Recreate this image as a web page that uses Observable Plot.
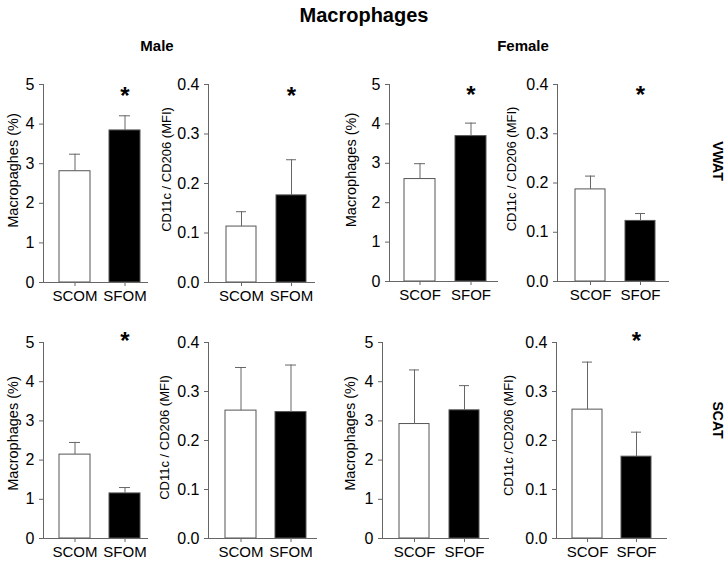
<!DOCTYPE html>
<html>
<head>
<meta charset="utf-8">
<script src="https://cdn.jsdelivr.net/npm/d3@7"></script>
<script src="https://cdn.jsdelivr.net/npm/@observablehq/plot@0.6"></script>
<style>
  body { margin: 0; background: #fff; }
  #fig { position: relative; width: 728px; height: 565px; overflow: hidden; background: #fff;
         font-family: "Liberation Sans", Arial, sans-serif; color: #000; }
  .lbl { position: absolute; font-weight: bold; white-space: nowrap; line-height: 1;
         transform: translate(-50%, -50%); }
  .rot { transform: translate(-50%, -50%) rotate(90deg); }
  .panel { position: absolute; }
</style>
</head>
<body>
<div id="fig">
  <div class="lbl" style="left:364px;top:15px;font-size:20px;">Macrophages</div>
  <div class="lbl" style="left:157px;top:45px;font-size:15px;">Male</div>
  <div class="lbl" style="left:523px;top:45px;font-size:15px;">Female</div>
  <div class="lbl rot" style="left:718px;top:161px;font-size:14px;">VWAT</div>
  <div class="lbl rot" style="left:718px;top:420px;font-size:14px;">SCAT</div>
</div>
<script>
// ---- data ----
const maleGroups = ["SCOM", "SFOM"];
const femaleGroups = ["SCOF", "SFOF"];
const macTicks = [0, 1, 2, 3, 4, 5];
const cdTicks = [0, 0.1, 0.2, 0.3, 0.4];

const vwatMaleMac = [2.81, 3.84];
const vwatMaleMacErr = [0.43, 0.37];
const vwatMaleCD = [0.113, 0.176];
const vwatMaleCDErr = [0.030, 0.072];
const vwatFemaleMac = [2.6, 3.69];
const vwatFemaleMacErr = [0.39, 0.33];
const vwatFemaleCD = [0.187, 0.123];
const vwatFemaleCDErr = [0.027, 0.015];

const scatMaleMac = [2.14, 1.15];
const scatMaleMacErr = [0.31, 0.15];
const scatMaleCD = [0.261, 0.258];
const scatMaleCDErr = [0.088, 0.096];
const scatFemaleMac = [2.92, 3.27];
const scatFemaleMacErr = [1.38, 0.63];
const scatFemaleCD = [0.263, 0.167];
const scatFemaleCDErr = [0.097, 0.050];

const barFills = ["white", "black"];

// significance markers (group with a star)
const vwatMaleMacStar = ["SFOM"];
const vwatMaleCDStar = ["SFOM"];
const vwatFemaleMacStar = ["SFOF"];
const vwatFemaleCDStar = ["SFOF"];
const scatMaleMacStar = ["SFOM"];
const scatMaleCDStar = [];
const scatFemaleMacStar = [];
const scatFemaleCDStar = ["SFOF"];

const macLabel = "Macrophages (%)";
const macLabelTypo = "Macropaghes (%)";
const cdLabel = "CD11c / CD206 (MFI)";
const cdLabel2 = "CD11c /CD206 (MFI)";

// ---- panel definitions ----
const panels = [
  {groups: maleGroups, v: vwatMaleMac, e: vwatMaleMacErr, star: vwatMaleMacStar, yMax: 5, ticks: macTicks, fmt: "d", label: macLabelTypo, lsize: 14.5},
  {groups: maleGroups, v: vwatMaleCD, e: vwatMaleCDErr, star: vwatMaleCDStar, yMax: 0.4, ticks: cdTicks, fmt: ".1f", label: cdLabel, lsize: 13},
  {groups: femaleGroups, v: vwatFemaleMac, e: vwatFemaleMacErr, star: vwatFemaleMacStar, yMax: 5, ticks: macTicks, fmt: "d", label: macLabel, lsize: 14.5},
  {groups: femaleGroups, v: vwatFemaleCD, e: vwatFemaleCDErr, star: vwatFemaleCDStar, yMax: 0.4, ticks: cdTicks, fmt: ".1f", label: cdLabel, lsize: 13},
  {groups: maleGroups, v: scatMaleMac, e: scatMaleMacErr, star: scatMaleMacStar, yMax: 5, ticks: macTicks, fmt: "d", label: macLabel, lsize: 14.5},
  {groups: maleGroups, v: scatMaleCD, e: scatMaleCDErr, star: scatMaleCDStar, yMax: 0.4, ticks: cdTicks, fmt: ".1f", label: cdLabel, lsize: 13},
  {groups: femaleGroups, v: scatFemaleMac, e: scatFemaleMacErr, star: scatFemaleMacStar, yMax: 5, ticks: macTicks, fmt: "d", label: macLabel, lsize: 14.5},
  {groups: femaleGroups, v: scatFemaleCD, e: scatFemaleCDErr, star: scatFemaleCDStar, yMax: 0.4, ticks: cdTicks, fmt: ".1f", label: cdLabel2, lsize: 13}
];

// ---- layout (pixel placement of each panel frame) ----
const layout = [
  {ax: 43,  top: 84,  h: 198, gapL: 16, bw: 31, gap: 19, gapR: 7,  lOff: 30, lDy: -13, starF: 0.96},
  {ax: 208, top: 84,  h: 198, gapL: 17, bw: 31, gap: 20, gapR: 7,  lOff: 42, lDy: -14, starF: 0.96},
  {ax: 389, top: 84,  h: 197, gapL: 15, bw: 31, gap: 20, gapR: 11, lOff: 38, lDy: -13, starF: 0.965},
  {ax: 557, top: 84,  h: 197, gapL: 17, bw: 31, gap: 20, gapR: 12, lOff: 46, lDy: -14, starF: 0.965},
  {ax: 43,  top: 342, h: 196, gapL: 16, bw: 31, gap: 19, gapR: 7,  lOff: 30, lDy: -7,  starF: 1.026},
  {ax: 208, top: 342, h: 196, gapL: 17, bw: 31, gap: 19, gapR: 10, lOff: 44, lDy: -3,  starF: 1.026},
  {ax: 382, top: 342, h: 196, gapL: 17, bw: 30, gap: 20, gapR: 9,  lOff: 32, lDy: -7,  starF: 1.026},
  {ax: 556, top: 342, h: 196, gapL: 15, bw: 31, gap: 19, gapR: 14, lOff: 48, lDy: -5,  starF: 1.026}
];

const axisColor = "#666";
const fig = document.getElementById("fig");
const mL = 60, mT = 24, mB = 34, mR = 6;

panels.forEach((p, i) => {
  const L = layout[i];
  const step = L.bw + L.gap;
  const frameW = L.gapL + 2 * L.bw + L.gap + L.gapR;
  const data = p.groups.map((g, k) => ({g, v: p.v[k], e: p.e[k], fill: barFills[k]}));
  const stars = p.star.map(g => ({g, y: p.yMax * L.starF}));
  const chart = Plot.plot({
    width: mL + frameW + mR,
    height: mT + L.h + mB,
    marginLeft: mL, marginRight: mR, marginTop: mT, marginBottom: mB,
    style: {fontFamily: "'Liberation Sans', Arial, sans-serif", overflow: "visible", background: "transparent", color: "#000"},
    x: {type: "band", domain: p.groups, paddingInner: L.gap / step,
        paddingOuter: (L.gapL + L.gapR) / (2 * step), align: L.gapL / (L.gapL + L.gapR)},
    y: {domain: [0, p.yMax], nice: false},
    color: {type: "identity"},
    marks: [
      Plot.barY(data, {x: "g", y: "v", fill: "fill", stroke: "#555", strokeWidth: 1}),
      Plot.ruleX(data, {x: "g", y1: "v", y2: d => d.v + d.e, stroke: axisColor, strokeWidth: 1}),
      Plot.tickY(data, {x: "g", y: d => d.v + d.e, stroke: axisColor, strokeWidth: 1, insetLeft: 10, insetRight: 10}),
      Plot.frame({anchor: "left", stroke: axisColor}),
      Plot.frame({anchor: "bottom", stroke: axisColor}),
      Plot.axisY({ticks: p.ticks, tickFormat: d3.format(p.fmt), tickSize: 4, tickPadding: 5,
                  fontSize: 16, stroke: axisColor, label: null}),
      Plot.axisX({tickSize: 4, tickPadding: 4, fontSize: 15, stroke: axisColor, label: null}),
      Plot.text([p.label], {frameAnchor: "left", text: d => d, rotate: -90, dx: -L.lOff, dy: L.lDy,
                  fontSize: p.lsize, lineAnchor: "middle", textAnchor: "middle", fill: "#000"}),
      Plot.text(stars, {x: "g", y: "y", text: () => "*", fontSize: 24, fontWeight: "bold",
                  lineAnchor: "middle", dy: 4, fill: "#000"})
    ]
  });
  chart.classList.add("panel");
  chart.style.left = (L.ax - mL) + "px";
  chart.style.top = (L.top - mT) + "px";
  fig.appendChild(chart);
});
</script>
</body>
</html>
